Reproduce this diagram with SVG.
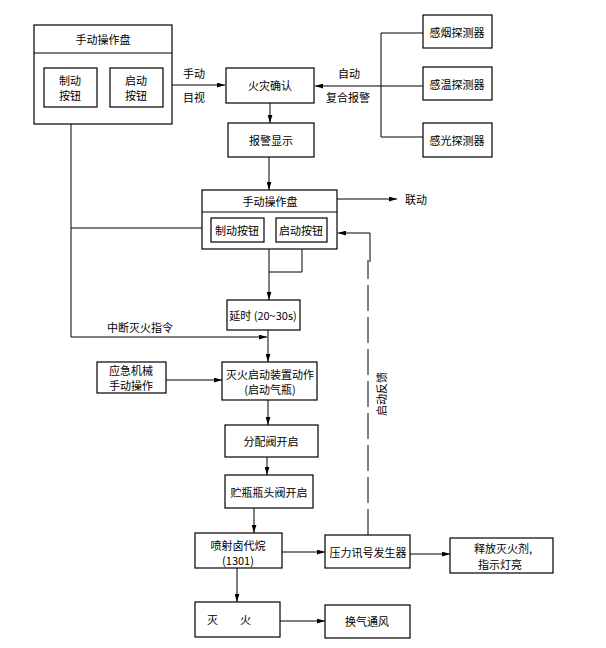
<svg xmlns="http://www.w3.org/2000/svg" width="606" height="648" viewBox="0 0 606 648">
<style>
.b{fill:#fff;stroke:#000;stroke-width:1.2}
.l{fill:none;stroke:#000;stroke-width:1}
.d{fill:none;stroke:#000;stroke-width:1;stroke-dasharray:26 6}
text{font-family:"Noto Sans CJK SC","Liberation Sans",sans-serif;font-size:11px;fill:#000;text-anchor:middle;dominant-baseline:central}
</style>
<defs>
<marker id="a" viewBox="0 0 10 6" refX="10" refY="3" markerWidth="8" markerHeight="5" markerUnits="userSpaceOnUse" orient="auto"><path d="M0,0L10,3L0,6z" fill="#000"/></marker>
</defs>
<rect width="606" height="648" fill="#fff"/>
<g id="connectors">
<path class="l" d="M163,85H225" marker-end="url(#a)"/>
<path class="l" d="M381,33H423M381,86H423M381,137H423M381,33V137"/>
<path class="l" d="M381,86H315" marker-end="url(#a)"/>
<path class="l" d="M270,103V123" marker-end="url(#a)"/>
<path class="l" d="M269,157V190" marker-end="url(#a)"/>
<path class="l" d="M337,199H397" marker-end="url(#a)"/>
<path class="l" d="M71,107V337H267" marker-end="url(#a)"/>
<path class="l" d="M71,228H202"/>
<path class="l" d="M269,249V300" marker-end="url(#a)"/>
<path class="l" d="M302,242V272H269"/>
<path class="l" d="M268,330V362" marker-end="url(#a)"/>
<path class="l" d="M166,380H222" marker-end="url(#a)"/>
<path class="l" d="M268,400V425" marker-end="url(#a)"/>
<path class="l" d="M267,457V475" marker-end="url(#a)"/>
<path class="l" d="M254,508V533" marker-end="url(#a)"/>
<path class="l" d="M282,552H325" marker-end="url(#a)"/>
<path class="l" d="M410,554H450" marker-end="url(#a)"/>
<path class="l" d="M237,568V602" marker-end="url(#a)"/>
<path class="l" d="M280,621H325" marker-end="url(#a)"/>
<path class="d" d="M368,535V260"/>
<path class="l" d="M370,262V233H338" marker-end="url(#a)"/>
<text x="194" y="73">手动</text>
<text x="194" y="97">目视</text>
<text x="349" y="73">自动</text>
<text x="348" y="97">复合报警</text>
<text x="416" y="199">联动</text>
<text x="140" y="327">中断灭火指令</text>
<text transform="translate(381,394) rotate(-90)">启动反馈</text>
</g>
<g id="panel1">
<rect class="b" x="34" y="25" width="138" height="99"/>
<path class="l" d="M34,53H172"/>
<text x="103" y="39">手动操作盘</text>
</g>
<g id="btn1-stop">
<rect class="b" x="44" y="68" width="53" height="39"/>
<text x="70" y="80">制动</text>
<text x="70" y="95">按钮</text>
</g>
<g id="btn1-start">
<rect class="b" x="110" y="68" width="53" height="39"/>
<text x="136" y="80">启动</text>
<text x="136" y="95">按钮</text>
</g>
<g id="confirm">
<rect class="b" x="226" y="68" width="88" height="35"/>
<text x="270" y="85">火灾确认</text>
</g>
<g id="alarm">
<rect class="b" x="228" y="123" width="86" height="34"/>
<text x="271" y="140">报警显示</text>
</g>
<g id="smoke">
<rect class="b" x="423" y="15" width="69" height="33"/>
<text x="457" y="32">感烟探测器</text>
</g>
<g id="heat">
<rect class="b" x="423" y="67" width="69" height="33"/>
<text x="457" y="84">感温探测器</text>
</g>
<g id="light">
<rect class="b" x="423" y="123" width="69" height="34"/>
<text x="457" y="140">感光探测器</text>
</g>
<g id="panel2">
<rect class="b" x="202" y="190" width="135" height="59"/>
<path class="l" d="M202,212H337"/>
<text x="270" y="201">手动操作盘</text>
</g>
<g id="btn2-stop">
<rect class="b" x="211" y="218" width="53" height="24"/>
<text x="237" y="230">制动按钮</text>
</g>
<g id="btn2-start">
<rect class="b" x="276" y="218" width="51" height="24"/>
<text x="301" y="230">启动按钮</text>
</g>
<g id="delay">
<rect class="b" x="227" y="300" width="73" height="30"/>
<text x="263" y="315">延时 (20~30s)</text>
</g>
<g id="manual-emergency">
<rect class="b" x="97" y="362" width="69" height="31"/>
<text x="131" y="369.5">应急机械</text>
<text x="131" y="385">手动操作</text>
</g>
<g id="start-device">
<rect class="b" x="222" y="362" width="95" height="38"/>
<text x="270" y="373.5">灭火启动装置动作</text>
<text x="270" y="389">(启动气瓶)</text>
</g>
<g id="valve">
<rect class="b" x="225" y="425" width="93" height="32"/>
<text x="271" y="441">分配阀开启</text>
</g>
<g id="bottle-valve">
<rect class="b" x="225" y="475" width="88" height="33"/>
<text x="269" y="492">贮瓶瓶头阀开启</text>
</g>
<g id="spray">
<rect class="b" x="195" y="533" width="87" height="35"/>
<text x="238" y="544.5">喷射卤代烷</text>
<text x="238" y="560">(1301)</text>
</g>
<g id="pressure">
<rect class="b" x="325" y="535" width="85" height="33"/>
<text x="368" y="552">压力讯号发生器</text>
</g>
<g id="release">
<rect class="b" x="450" y="538" width="103" height="35"/>
<text x="503" y="548">释放灭火剂,</text>
<text x="500" y="564">指示灯亮</text>
</g>
<g id="extinguish">
<rect class="b" x="195" y="602" width="85" height="35"/>
<text x="229" y="619">灭　　火</text>
</g>
<g id="ventilate">
<rect class="b" x="325" y="605" width="85" height="33"/>
<text x="367" y="621">换气通风</text>
</g>
</svg>
